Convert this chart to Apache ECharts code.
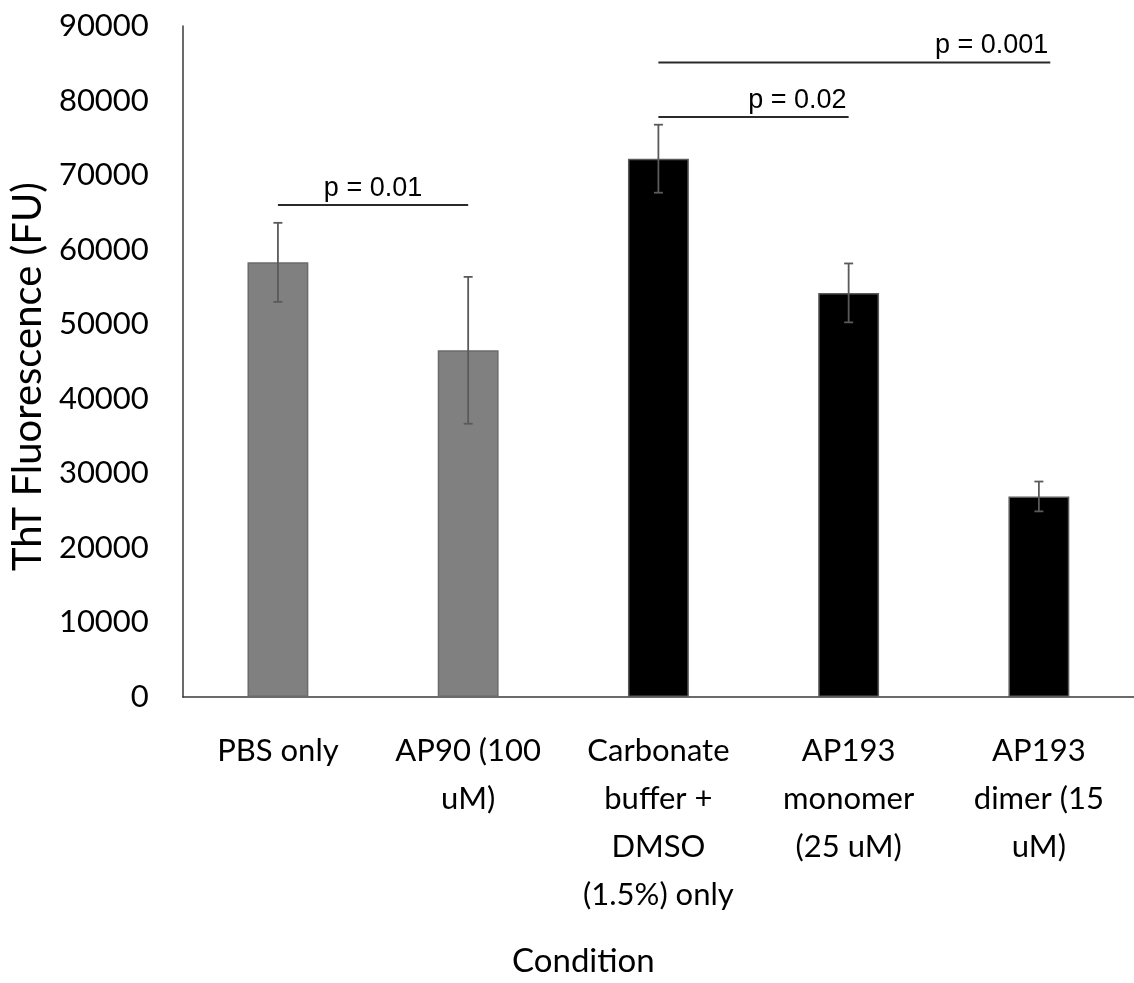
<!DOCTYPE html>
<html>
<head>
<meta charset="utf-8">
<script src="https://cdn.jsdelivr.net/npm/echarts@6/dist/echarts.min.js"></script>
<style>html,body{margin:0;padding:0;background:#fff}#c{width:1134px;height:983px}</style>
</head>
<body>
<div id="c"></div>
<script>
const categories = ['PBS only', 'AP90 (100\nuM)', 'Carbonate\nbuffer +\nDMSO\n(1.5%) only', 'AP193\nmonomer\n(25 uM)', 'AP193\ndimer (15\nuM)'];
const means = [58300, 46500, 72200, 54200, 26900];
const errors = [5300, 9850, 4560, 3950, 2000];
const barGroups = ['gray', 'gray', 'black', 'black', 'black'];
const yTicks = [0, 10000, 20000, 30000, 40000, 50000, 60000, 70000, 80000, 90000];
// significance annotations
const sigStart = [0, 2, 2];
const sigEnd = [1, 3, 4.06];
const sigLevel = [66000, 77800, 85100];
const sigLabels = ['p = 0.01', 'p = 0.02', 'p = 0.001'];
const sigAlign = ['center', 'right', 'right'];

const groupStyle = {
  gray: { color: '#808080', borderColor: '#6b6b6b' },
  black: { color: '#000000', borderColor: '#5a5a5a' }
};

const chart = echarts.init(document.getElementById('c'), null, { renderer: 'canvas' });

function xAt(api, v) {
  const i = Math.floor(v);
  const f = v - i;
  const p = api.coord([i, 0])[0];
  const bw = api.size([1, 0])[0];
  return p + f * bw;
}

const option = {
  animation: false,
  backgroundColor: '#ffffff',
  grid: { left: 181, right: 0, top: 26, bottom: 285, containLabel: false },
  xAxis: {
    type: 'category',
    data: categories,
    name: 'Condition',
    nameLocation: 'middle',
    nameGap: 248,
    nameTextStyle: { fontFamily: 'Lato', fontSize: 33, color: '#000', padding: [0, 150, 0, 0] },
    axisLine: { show: true, lineStyle: { color: '#3a3a3a', width: 1.5 } },
    axisTick: { show: false },
    axisLabel: { fontFamily: 'Lato', fontSize: 31, color: '#000', lineHeight: 48, margin: 30, interval: 0 }
  },
  yAxis: {
    type: 'value',
    min: yTicks[0],
    max: yTicks[yTicks.length - 1],
    interval: yTicks[1] - yTicks[0],
    name: 'ThT Fluorescence (FU)',
    nameLocation: 'middle',
    nameGap: 132,
    nameTextStyle: { fontFamily: 'Lato', fontSize: 40, color: '#000', padding: [0, 30, 0, 0] },
    axisLine: { show: true, lineStyle: { color: '#3a3a3a', width: 1.5 } },
    axisTick: { show: false },
    splitLine: { show: false },
    axisLabel: { fontFamily: 'Lato', fontSize: 31, color: '#000', margin: 34, formatter: v => String(v) }
  },
  series: [
    {
      type: 'bar',
      barWidth: '32%',
      data: means.map((v, i) => ({
        value: v,
        itemStyle: {
          color: groupStyle[barGroups[i]].color,
          borderColor: groupStyle[barGroups[i]].borderColor,
          borderWidth: 1.5
        }
      })),
      z: 2
    },
    {
      type: 'custom',
      z: 3,
      data: means.map((v, i) => [i, v - errors[i], v + errors[i]]),
      renderItem: function (params, api) {
        const x = api.coord([api.value(0), 0])[0];
        const lo = api.coord([api.value(0), api.value(1)])[1];
        const hi = api.coord([api.value(0), api.value(2)])[1];
        const cap = 4.5;
        const st = { stroke: '#5a5a5a', lineWidth: 1.8 };
        return {
          type: 'group',
          children: [
            { type: 'line', shape: { x1: x, y1: lo, x2: x, y2: hi }, style: st },
            { type: 'line', shape: { x1: x - cap, y1: lo, x2: x + cap, y2: lo }, style: st },
            { type: 'line', shape: { x1: x - cap, y1: hi, x2: x + cap, y2: hi }, style: st }
          ]
        };
      }
    },
    {
      type: 'custom',
      z: 4,
      data: sigLevel.map((y, i) => [sigStart[i], sigEnd[i], y, i]),
      renderItem: function (params, api) {
        const i = api.value(3);
        const x1 = xAt(api, api.value(0));
        const x2 = xAt(api, api.value(1));
        const y = api.coord([0, api.value(2)])[1];
        const align = sigAlign[i];
        const tx = align === 'center' ? (x1 + x2) / 2 : x2 - 2;
        return {
          type: 'group',
          children: [
            { type: 'line', shape: { x1: x1, y1: y, x2: x2, y2: y }, style: { stroke: '#2a2a2a', lineWidth: 2 } },
            { type: 'text', x: tx, y: y - 3, style: {
                text: sigLabels[i], fontFamily: 'Liberation Sans', fontSize: 27, fill: '#000',
                align: align, verticalAlign: 'bottom' } }
          ]
        };
      }
    }
  ]
};
chart.setOption(option);
</script>
</body>
</html>
